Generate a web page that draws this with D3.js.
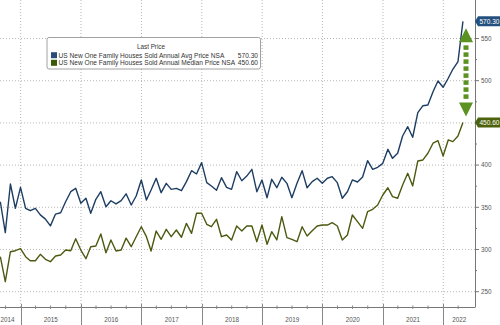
<!DOCTYPE html>
<html><head><meta charset="utf-8">
<script src="https://cdn.jsdelivr.net/npm/d3@7"></script>
<style>body{margin:0;background:#fff}svg{display:block}text{font-family:"Liberation Sans",Arial,sans-serif}</style>
</head><body><svg id="c" width="500" height="325"></svg>
<script>
// First observation: August 2014 (monthly, plotted at month end), last: April 2022
const firstYear = 2014, firstMonthIndex = 7;
const avgPrice = [356.6,320,377.6,348.8,373.7,348.8,346,348.8,341,336,328,342,343.6,356.6,368.5,372.5,354.7,360.7,343,359.5,368.5,350.7,357.8,354,358,366,352.7,363.4,382.4,358.7,370.5,384.4,367.3,378.4,371.3,372.5,369.7,380.4,393.4,389.5,402.9,379.2,375.3,370.2,385.1,373.7,371.3,392.2,381.5,387,395,368.5,382.4,361.4,383.2,373.2,385.6,378.4,361.4,378.4,393.4,373.2,380.4,384.4,378.4,384.4,386.3,379.2,360.7,368.5,382.4,380,386,405.2,395,397.4,402.1,418.7,408,414,434.5,445.5,433,462.1,470.4,471.2,487,499.7,492.2,502.9,513.5,522.6,570.3];
const medianPrice = [291.5,261.9,297.4,298.6,301,291.5,286.7,286.7,294.3,288.4,285.6,292.3,293.5,299.4,298.6,312.8,299.4,289.1,303.3,304.2,318.4,296.2,311.3,298.2,299.4,313.5,303.3,315.2,327,315.2,298.2,321.9,312.1,323.9,315.2,323.1,314.5,331,319.2,342.9,342.9,329.9,327,335.8,315.2,317.2,311.3,327.9,322,327.9,327.9,309.3,329,306.2,321.1,311.3,338.9,314,312.1,309.3,327,316,322.3,327.9,329,329,331.8,327.9,311.3,317.2,340.9,333,325.1,344.8,347.6,352.7,364.6,373.2,362.6,360.7,376.4,390.3,375.3,404.9,406.1,414,425.9,429,410.8,429.8,427.8,434.5,450.6];
const yTicks = [250,300,350,400,450,500,550];
const yMinorTicks = [275,325,375,425,475,525];
const yearLabels = [2014,2015,2016,2017,2018,2019,2020,2021,2022];
const legendTitle = "Last Price";
const seriesNames = ["US New One Family Houses Sold Annual Avg Price NSA","US New One Family Houses Sold Annual Median Price NSA"];
const lastValues = ["570.30","450.60"];

const blue = "#1d3d62", green = "#4b5a10";
const tagBlue = "#23507e", tagGreen = "#4d620c", arrowGreen = "#5b9221";

const svg = d3.select("#c");
const W = 475, H = 307;
const x = d3.scaleTime().domain([new Date(2014,7,29), new Date(2022,6,12)]).range([0, W]);
const y = d3.scaleLinear().domain([231.9, 595.6]).range([H, 0]);
const dates = avgPrice.map((_, i) => new Date(firstYear, firstMonthIndex + i + 1, 0));
const tagValues = [avgPrice[avgPrice.length - 1], medianPrice[medianPrice.length - 1]];

// gridlines
const yearStarts = yearLabels.slice(1).map(yr => new Date(yr, 0, 1));
svg.append("g").selectAll("line").data(yTicks).join("line")
  .attr("x1", 0).attr("x2", W).attr("y1", d => y(d)).attr("y2", d => y(d))
  .attr("stroke", "#b8b8b8").attr("stroke-width", 1).attr("stroke-dasharray", "1,2");
svg.append("g").selectAll("line").data(yearStarts).join("line")
  .attr("x1", d => x(d)).attr("x2", d => x(d)).attr("y1", 0).attr("y2", H)
  .attr("stroke", "#b8b8b8").attr("stroke-width", 1).attr("stroke-dasharray", "1,2");

// lines
const line = arr => d3.line().x((d, i) => x(dates[i])).y(d => y(d))(arr);
svg.append("path").attr("d", line(medianPrice)).attr("fill", "none").attr("stroke", green).attr("stroke-width", 1.4).attr("stroke-linejoin", "round");
svg.append("path").attr("d", line(avgPrice)).attr("fill", "none").attr("stroke", blue).attr("stroke-width", 1.4).attr("stroke-linejoin", "round");

// right axis
const ra = svg.append("g").attr("transform", `translate(${W},0)`);
ra.append("line").attr("x1", 0.5).attr("x2", 0.5).attr("y1", 0).attr("y2", H).attr("stroke", "#777");
ra.selectAll("line.maj").data(yTicks).join("line").attr("class","maj")
  .attr("x1", 0).attr("x2", 4).attr("y1", d => y(d)).attr("y2", d => y(d)).attr("stroke", "#777");
ra.selectAll("line.min").data(yMinorTicks).join("line").attr("class","min")
  .attr("x1", 0).attr("x2", 2).attr("y1", d => y(d)).attr("y2", d => y(d)).attr("stroke", "#777");
// labels hidden behind a value tag are not drawn
ra.selectAll("text").data(yTicks.filter(t => tagValues.every(v => Math.abs(y(t) - y(v)) > 8))).join("text")
  .attr("x", 6).attr("y", d => y(d) + 2.3).attr("font-size", 6.3).attr("fill", "#555").text(d => d);

// bottom axis
const ba = svg.append("g");
ba.append("line").attr("x1", 0).attr("x2", W + 0.5).attr("y1", H + 0.5).attr("y2", H + 0.5).attr("stroke", "#777");
ba.selectAll("line.yr").data(yearStarts).join("line").attr("class","yr")
  .attr("x1", d => Math.round(x(d)) + 0.5).attr("x2", d => Math.round(x(d)) + 0.5).attr("y1", H - 3).attr("y2", 325).attr("stroke", "#888");
const quarters = d3.timeMonth.every(3).range(new Date(2014,8,1), new Date(2022,6,1)).filter(d => d.getMonth() !== 0);
ba.selectAll("line.q").data(quarters).join("line").attr("class","q")
  .attr("x1", d => x(d)).attr("x2", d => x(d)).attr("y1", H - 1.5).attr("y2", H + 2).attr("stroke", "#888");
ba.selectAll("text").data(yearLabels).join("text")
  .attr("x", d => {
    const a = Math.max(0, x(new Date(d, 0, 1))), b = Math.min(W, x(new Date(d + 1, 0, 1)));
    return d === yearLabels[0] ? 0.5 : (a + b) / 2;
  })
  .attr("text-anchor", d => d === yearLabels[0] ? "start" : "middle")
  .attr("y", 321.5).attr("font-size", 6.3).attr("fill", "#555").text(d => d);

// value tags
[[tagValues[0], lastValues[0], tagBlue], [tagValues[1], lastValues[1], tagGreen]].forEach(([v, label, col]) => {
  const cy = y(v);
  svg.append("path").attr("d", `M${W},${cy} L${W + 3},${cy - 5} L500,${cy - 5} L500,${cy + 5} L${W + 3},${cy + 5} Z`).attr("fill", col);
  svg.append("text").attr("x", W + 4.5).attr("y", cy + 2.3).attr("font-size", 6.5).attr("fill", "#fff").text(label);
});

// double arrow
const ax = 466, yTop = y(tagValues[0]) + 7, yBot = y(tagValues[1]) - 6;
const ag = svg.append("g").attr("fill", arrowGreen);
ag.append("path").attr("d", `M${ax},${yTop} L${ax + 7},${yTop + 14} L${ax - 7},${yTop + 14} Z`);
ag.append("path").attr("d", `M${ax},${yBot} L${ax + 7},${yBot - 14} L${ax - 7},${yBot - 14} Z`);
for (let yy = yTop + 17; yy < yBot - 17; yy += 7) {
  ag.append("rect").attr("x", ax - 2.5).attr("y", yy).attr("width", 5).attr("height", 4.5);
}

// legend
const lg = svg.append("g");
lg.append("rect").attr("x", 47).attr("y", 37.5).attr("width", 213.5).attr("height", 31.5).attr("rx", 2)
  .attr("fill", "#fff").attr("stroke", "#8a8a8a").attr("stroke-width", 0.8);
lg.append("text").attr("x", 151).attr("y", 48.8).attr("text-anchor", "middle").attr("font-size", 6.3).attr("fill", "#333").text(legendTitle);
[["#2a4d78", 55.2], ["#3c5a05", 62.8]].forEach(([col, cy], i) => {
  lg.append("rect").attr("x", 51).attr("y", cy - 3).attr("width", 6).attr("height", 6).attr("fill", col);
  lg.append("text").attr("x", 58.5).attr("y", cy + 2.3).attr("font-size", 6.6).attr("fill", "#333").text(seriesNames[i]);
  lg.append("text").attr("x", 258).attr("y", cy + 2.3).attr("text-anchor", "end").attr("font-size", 6.6).attr("fill", "#333").text(lastValues[i]);
});
</script></body></html>
